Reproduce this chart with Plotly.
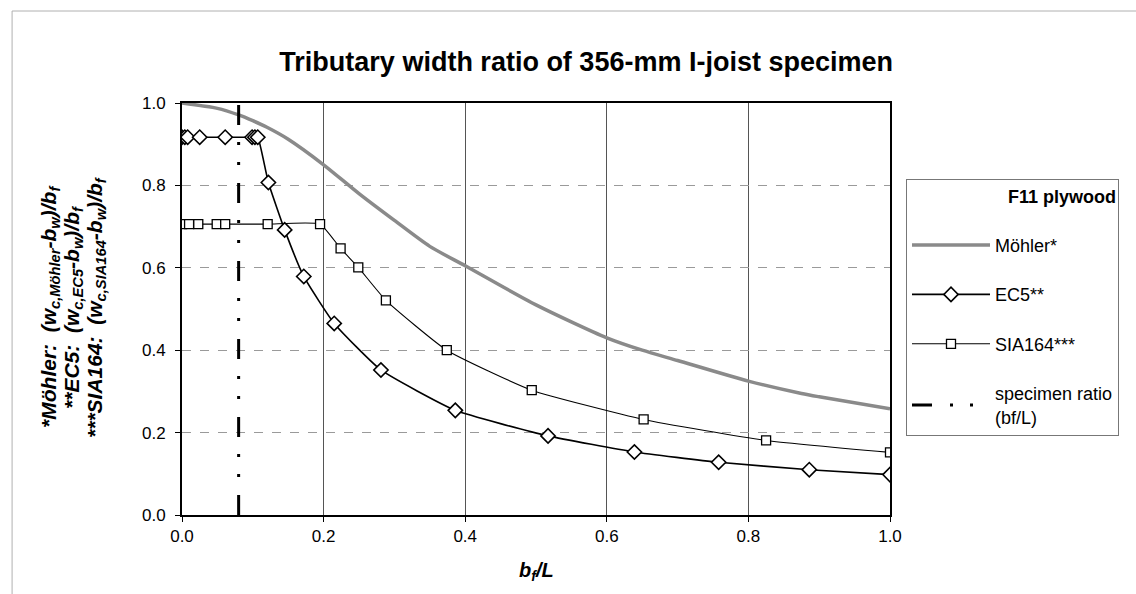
import plotly.graph_objects as go

# ---- data ----
mohler_x = [0.0, 0.05, 0.08, 0.10, 0.12, 0.15, 0.20, 0.25, 0.30, 0.35, 0.40, 0.50, 0.60, 0.65, 0.70, 0.80, 0.875, 0.90, 1.0]
mohler_y = [1.0, 0.987, 0.971, 0.957, 0.941, 0.912, 0.850, 0.780, 0.715, 0.652, 0.605, 0.510, 0.430, 0.400, 0.375, 0.325, 0.295, 0.287, 0.258]

ec5_x = [0.0, 0.004, 0.008, 0.025, 0.061, 0.099, 0.103, 0.107, 0.122, 0.145, 0.172, 0.215, 0.281, 0.386, 0.517, 0.639, 0.758, 0.886, 1.0]
ec5_y = [0.917, 0.917, 0.917, 0.917, 0.917, 0.917, 0.917, 0.917, 0.807, 0.692, 0.579, 0.465, 0.352, 0.254, 0.192, 0.153, 0.128, 0.110, 0.098]

sia_x = [0.0, 0.010, 0.023, 0.049, 0.061, 0.121, 0.195, 0.224, 0.249, 0.288, 0.374, 0.494, 0.652, 0.825, 1.0]
sia_y = [0.706, 0.706, 0.706, 0.706, 0.706, 0.706, 0.706, 0.647, 0.601, 0.521, 0.400, 0.303, 0.232, 0.181, 0.152]

specimen_ratio = 0.08
specimen_y = [0.0, 1.0]

x_ticks = [0.0, 0.2, 0.4, 0.6, 0.8, 1.0]
y_ticks = [0.0, 0.2, 0.4, 0.6, 0.8, 1.0]

ytitle_lines = [
    "*Möhler:\u00a0\u00a0(w<sub>c,Möhler</sub>-b<sub>w</sub>)/b<sub>f</sub>",
    "**EC5:\u00a0\u00a0(w<sub>c,EC5</sub>-b<sub>w</sub>)/b<sub>f</sub>",
    "***SIA164:\u00a0\u00a0(w<sub>c,SIA164</sub>-b<sub>w</sub>)/b<sub>f</sub>",
]

FONT = "Liberation Sans, Arial, sans-serif"

fig = go.Figure()

fig.add_trace(go.Scatter(
    x=mohler_x, y=mohler_y, mode="lines", name="Möhler*",
    line=dict(color="#8a8a8a", width=3.5, shape="spline", smoothing=0.7),
    legendgroup="a",
))
fig.add_trace(go.Scatter(
    x=ec5_x, y=ec5_y, mode="lines+markers", name="EC5**",
    line=dict(color="black", width=1.6, shape="spline", smoothing=0.45),
    marker=dict(symbol="diamond", size=11, color="white", line=dict(color="black", width=1.6)),
    legendgroup="b",
))
fig.add_trace(go.Scatter(
    x=sia_x, y=sia_y, mode="lines+markers", name="SIA164***",
    line=dict(color="black", width=1.1, shape="spline", smoothing=0.45),
    marker=dict(symbol="square", size=9, color="white", line=dict(color="black", width=1.3)),
    legendgroup="c",
))
fig.add_trace(go.Scatter(
    x=[specimen_ratio, specimen_ratio], y=specimen_y, mode="lines",
    name="specimen ratio<br>(bf/L)",
    line=dict(color="black", width=3, dash="20px,18px,3px,17px,3px,17px"),
    legendgroup="d",
))

# plot area: x 182..890 px, y 103..515 px
annotations = []
for txt, px in zip(ytitle_lines, [50, 73, 96]):
    annotations.append(dict(
        text=f"<b><i>{txt}</i></b>", textangle=-90, xref="paper", yref="paper",
        x=(px - 182) / 708, y=0.505, xanchor="center", yanchor="middle",
        showarrow=False, font=dict(size=21, family=FONT)))
annotations.append(dict(
    text="<b><i>b<sub>f</sub>/L</i></b>", xref="paper", yref="paper",
    x=0.5, y=-0.136, xanchor="center", yanchor="middle",
    showarrow=False, font=dict(size=20, family=FONT)))

fig.update_layout(
    width=1136, height=594,
    margin=dict(l=182, r=246, t=103, b=79),
    paper_bgcolor="white", plot_bgcolor="white",
    font=dict(family=FONT, color="black", size=16),
    title=dict(
        text="<b>Tributary width ratio of 356-mm I-joist specimen</b>",
        x=0.516, xanchor="center", y=1 - 62 / 594, yanchor="middle",
        font=dict(size=27, family=FONT, color="black"),
    ),
    showlegend=True,
    legend=dict(
        x=(906 - 182) / 708, xanchor="left", y=(515 - 179) / 412, yanchor="top",
        bordercolor="#777777", borderwidth=1, bgcolor="white",
        font=dict(size=18, family=FONT),
        title=dict(text="<b>F11 plywood</b><br> ", side="top right", font=dict(size=18, family=FONT)),
        itemwidth=78, tracegroupgap=23, traceorder="grouped",
    ),
    annotations=annotations,
    shapes=[
        dict(type="rect", xref="paper", yref="paper",
             x0=-0.240, x1=1.36, y0=-0.25, y1=(515 - 11) / 412,
             line=dict(color="#b0b0b0", width=1), layer="below"),
    ],
)

fig.update_xaxes(
    range=[0, 1.0], tickvals=x_ticks, ticktext=[f"{v:.1f}" for v in x_ticks],
    showline=True, linecolor="black", linewidth=2, mirror=True,
    showgrid=True, gridcolor="#555555", gridwidth=1,
    ticks="outside", ticklen=5, tickcolor="black",
    tickfont=dict(size=17, family=FONT), zeroline=False,
)
fig.update_yaxes(
    range=[0, 1.0], tickvals=y_ticks, ticktext=[f"{v:.1f}" for v in y_ticks],
    showline=True, linecolor="black", linewidth=2, mirror=True,
    showgrid=True, gridcolor="#9a9a9a", gridwidth=1, griddash="dash",
    ticks="outside", ticklen=5, tickcolor="black",
    tickfont=dict(size=17, family=FONT), zeroline=False,
    ticklabelstandoff=6,
)

fig.write_html("out.html", config={"displayModeBar": False},
               post_script="document.body.style.margin='0';")
